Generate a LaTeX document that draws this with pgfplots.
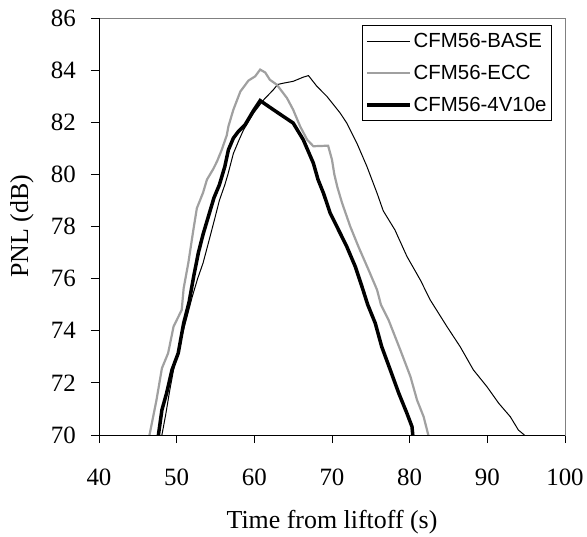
\documentclass[border=0pt]{standalone}
\usepackage{fontspec}
\setmainfont{Liberation Serif}
\newfontfamily\arialfont{Liberation Sans}
\usepackage{pgfplots}
\pgfplotsset{compat=1.18}
\definecolor{eccgray}{RGB}{160,160,160}
\definecolor{framegray}{RGB}{128,128,128}

\begin{document}
\begin{tikzpicture}
\useasboundingbox (-99bp,-102bp) rectangle (488bp,435bp);
\begin{axis}[
  at={(0,0)}, anchor=south west,
  scale only axis, width=466bp, height=417bp,
  xmin=40, xmax=100, ymin=70, ymax=86,
  xtick={40,50,...,100}, ytick={70,72,...,86},
  tick align=outside, tick pos=left,
  major tick length=8bp,
  tick style={black, line width=0.8bp},
  axis line style={framegray, line width=0.8bp},
  /pgf/number format/assume math mode=true,
  ticklabel style={font=\fontsize{25}{30}\selectfont},
  xticklabel style={anchor=center, yshift=-34bp},
  yticklabel style={anchor=east, inner sep=0pt, xshift=-15bp},
  label style={font=\fontsize{26}{31}\selectfont},
  xlabel={Time from liftoff (s)}, ylabel={PNL (dB)},
  xlabel style={at={(axis description cs:0.5,-0.2086)}, anchor=center},
  ylabel style={at={(axis description cs:-0.1652,0.5)}, anchor=center},
  legend cell align=left,
  legend image code/.code={\draw[#1] (0bp,0bp) -- (43bp,0bp);},
  legend style={at={(axis description cs:0.972,0.983)}, anchor=north east,
    draw=black, line width=0.8bp, font=\arialfont\fontsize{20.5}{24}\selectfont,
    inner xsep=3bp, inner ysep=6bp, row sep=12bp,
    nodes={inner sep=2bp}},
]
\addplot[black, line width=1bp] coordinates {
(48.1,70) (48.6,70.8) (49.1,71.7) (49.6,72.5) (50.4,73.5) (51.3,74.5) (52.0,75.3) (52.7,76.0) (53.4,76.6) (54.2,77.5) (54.9,78.3) (55.5,79.0) (56.2,79.6) (56.6,80.0) (57.3,80.8) (58.0,81.3) (58.6,81.7) (59.9,82.35) (61.2,82.86) (62.46,83.25) (63.0,83.45) (63.75,83.5) (65.0,83.57) (66.3,83.73) (66.97,83.79) (68.05,83.38) (69.35,82.99) (71.06,82.35) (71.9,81.97) (73.2,81.2) (74.5,80.3) (75.8,79.28) (76.6,78.6) (78.1,77.87) (79.65,76.85) (81.37,75.95) (82.65,75.18) (84.8,74.16) (86.5,73.39) (88.2,72.5) (89.96,71.85) (91.46,71.22) (92.96,70.7) (94.0,70.19) (94.77,70)
};
\addlegendentry{CFM56-BASE}
\addplot[eccgray, line width=2.2bp] coordinates {
(46.5,70) (47.4,71.34) (48.1,72.56) (48.9,73.14) (49.6,74.16) (50.65,74.8) (50.9,75.63) (51.5,76.6) (52.15,77.87) (52.6,78.7) (53.4,79.3) (53.9,79.8) (54.7,80.2) (55.2,80.5) (55.8,80.94) (56.45,81.5) (56.66,81.84) (57.3,82.48) (58.2,83.18) (59.25,83.6) (60.1,83.76) (60.75,84.02) (61.4,83.91) (62.0,83.63) (62.9,83.44) (64.2,82.93) (65.0,82.48) (65.9,81.84) (66.8,81.33) (67.6,81.08) (69.5,81.1) (70.0,80.56) (70.3,80.0) (70.7,79.5) (71.3,78.9) (72.35,78.0) (73.4,77.23) (74.7,76.34) (75.8,75.57) (76.3,75.0) (77.3,74.4) (78.8,73.26) (80.1,72.24) (80.95,71.34) (81.8,70.7) (82.4,70)
};
\addlegendentry{CFM56-ECC}
\addplot[black, line width=3.5bp] coordinates {
(47.65,70) (48.1,70.96) (48.7,71.6) (49.4,72.5) (50.2,73.14) (50.9,74.29) (51.6,75.1) (52.2,76.1) (52.8,77.0) (53.4,77.7) (54.1,78.4) (54.8,79.1) (55.5,79.6) (56.2,80.3) (56.66,80.94) (57.3,81.39) (57.95,81.65) (58.8,81.9) (59.9,82.45) (60.75,82.83) (62.46,82.48) (63.75,82.22) (65.0,81.97) (66.3,81.33) (67.6,80.43) (68.2,79.8) (68.9,79.28) (69.77,78.51) (70.84,77.87) (71.9,77.23) (73.0,76.46) (73.85,75.7) (74.6,75.0) (75.57,74.29) (76.4,73.39) (77.5,72.5) (78.6,71.6) (79.65,70.83) (80.3,70.32) (80.4,70)
};
\addlegendentry{CFM56-4V10e}
\draw[black, line width=0.8bp] (rel axis cs:0,1) -- (rel axis cs:0,0) -- (rel axis cs:1,0);
\end{axis}
\end{tikzpicture}
\end{document}
